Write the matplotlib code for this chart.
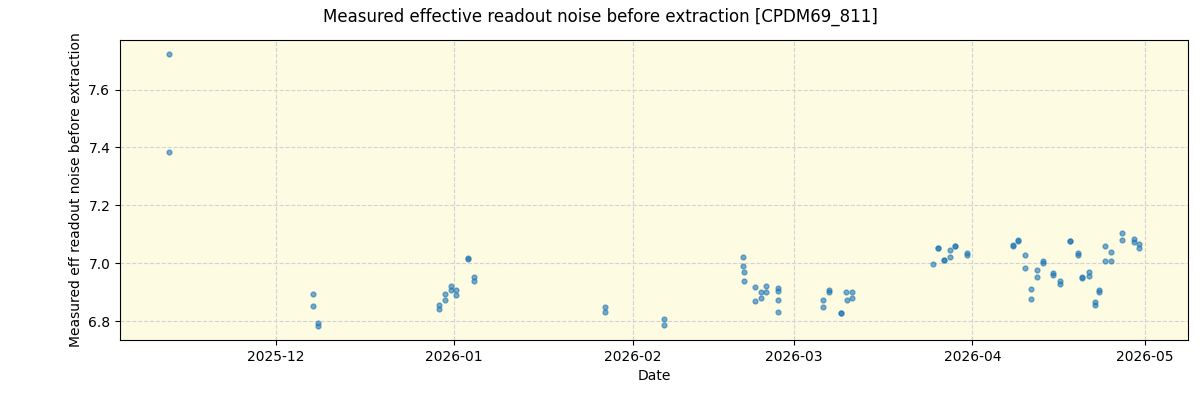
import pandas as pd
from matplotlib import pyplot as plt

dates = [
    "2025-11-12 10:00", "2025-11-12 10:00",
    "2025-12-07 12:00", "2025-12-07 12:00", "2025-12-08 08:00", "2025-12-08 08:00",
    "2025-12-29 09:00", "2025-12-29 09:00", "2025-12-30 10:00", "2025-12-30 10:00",
    "2025-12-31 11:00", "2025-12-31 11:00", "2026-01-01 08:00", "2026-01-01 08:00",
    "2026-01-03 10:00", "2026-01-03 10:00", "2026-01-04 11:00", "2026-01-04 11:00",
    "2026-01-27 05:00", "2026-01-27 05:00", "2026-02-06 11:00", "2026-02-06 11:00",
    "2026-02-20 05:00", "2026-02-20 05:00", "2026-02-20 09:00", "2026-02-20 09:00",
    "2026-02-22 07:00", "2026-02-22 07:00", "2026-02-23 08:00", "2026-02-23 08:00",
    "2026-02-24 05:00", "2026-02-24 05:00",
    "2026-02-26 07:00", "2026-02-26 07:00", "2026-02-26 07:00", "2026-02-26 07:00",
    "2026-03-06 02:00", "2026-03-06 02:00", "2026-03-07 03:00", "2026-03-07 03:00",
    "2026-03-09 06:00", "2026-03-09 06:00", "2026-03-10 02:00", "2026-03-10 06:00",
    "2026-03-11 03:00", "2026-03-11 03:00",
    "2026-03-25 05:00", "2026-03-26 02:00", "2026-03-26 02:00",
    "2026-03-27 03:00", "2026-03-27 03:00", "2026-03-28 04:00", "2026-03-28 04:00",
    "2026-03-29 01:00", "2026-03-29 01:00", "2026-03-31 03:00", "2026-03-31 03:00",
    "2026-04-08 03:00", "2026-04-08 03:00", "2026-04-08 23:00", "2026-04-08 23:00",
    "2026-04-10 05:00", "2026-04-10 05:00", "2026-04-11 02:00", "2026-04-11 02:00",
    "2026-04-12 03:00", "2026-04-12 03:00", "2026-04-13 04:00", "2026-04-13 04:00",
    "2026-04-15 01:00", "2026-04-15 01:00", "2026-04-16 03:00", "2026-04-16 03:00",
    "2026-04-18 00:00", "2026-04-18 00:00", "2026-04-19 06:00", "2026-04-19 06:00",
    "2026-04-20 02:00", "2026-04-20 02:00", "2026-04-21 04:00", "2026-04-21 04:00",
    "2026-04-22 05:00", "2026-04-22 05:00", "2026-04-23 01:00", "2026-04-23 01:00",
    "2026-04-24 02:00", "2026-04-24 02:00", "2026-04-25 03:00", "2026-04-25 03:00",
    "2026-04-27 01:00", "2026-04-27 01:00", "2026-04-29 03:00", "2026-04-29 03:00",
    "2026-04-30 00:00", "2026-04-30 00:00",
]
noise = [
    7.724, 7.384,
    6.895, 6.851, 6.795, 6.782,
    6.857, 6.843, 6.895, 6.874,
    6.923, 6.909, 6.909, 6.892,
    7.016, 7.017, 6.954, 6.940,
    6.850, 6.833, 6.808, 6.788,
    7.020, 6.992, 6.971, 6.937,
    6.919, 6.871, 6.902, 6.881,
    6.923, 6.902,
    6.916, 6.905, 6.874, 6.833,
    6.874, 6.850, 6.909, 6.899,
    6.828, 6.829, 6.899, 6.874,
    6.902, 6.881,
    6.998, 7.053, 7.054,
    7.011, 7.012, 7.047, 7.023,
    7.060, 7.061, 7.034, 7.027,
    7.061, 7.062, 7.082, 7.078,
    7.027, 6.985, 6.912, 6.878,
    6.975, 6.954, 7.009, 7.002,
    6.968, 6.961, 6.940, 6.930,
    7.077, 7.078, 7.034, 7.027,
    6.950, 6.951, 6.971, 6.957,
    6.867, 6.857, 6.909, 6.899,
    7.058, 7.009, 7.040, 7.009,
    7.103, 7.082, 7.083, 7.075,
    7.065, 7.054,
]

title = "Measured effective readout noise before extraction [CPDM69_811]"


def main():
    x = pd.to_datetime(dates)

    fig, ax = plt.subplots(figsize=(12, 4), dpi=100)
    fig.subplots_adjust(left=0.1, right=0.99, top=0.9, bottom=0.15)
    ax.set_facecolor("#fdfbe2")

    ax.scatter(x, noise, s=12, color="tab:blue", alpha=0.6, zorder=3)

    ax.grid(True, linestyle="--", color="lightgray", zorder=0)
    ax.set_axisbelow(True)
    ax.set_xlabel("Date")
    ax.set_ylabel("Measured eff readout noise before extraction")
    fig.suptitle(title, fontsize=12)

    fig.savefig("out.png")


if __name__ == "__main__":
    main()
